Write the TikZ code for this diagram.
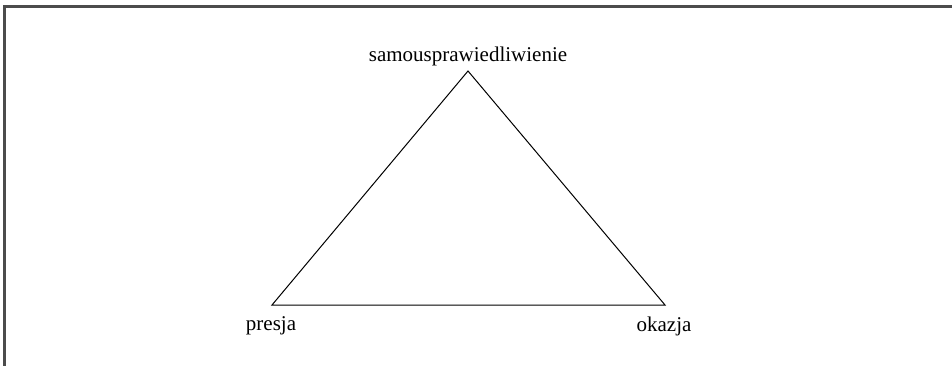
\documentclass[tikz,border=0pt]{standalone}
\usepackage{fontspec}
\setmainfont{Liberation Serif}
\usepackage{tikz}
\usetikzlibrary{positioning}

\tikzset{vertexlabel/.style={anchor=base, inner sep=0pt, font=\fontsize{21}{24}\selectfont}}

\begin{document}
\begin{tikzpicture}[x=1pt, y=-1pt]
\useasboundingbox (0,0) rectangle (952,366);

\draw [black!70, line width=2.2pt] (4.5,366) -- (4.5,6.5) -- (952,6.5);

\coordinate (apex) at (468,71);
\coordinate (pres) at (272,305);
\coordinate (okaz) at (665,305);

\draw [line width=1pt] (apex) -- (pres) -- (okaz) -- cycle;

\node [vertexlabel] (samo) at (468,62) {samousprawiedliwienie};
\node [vertexlabel] (presja) at (271,330) {presja};
\node [vertexlabel] (okazja) at (664,331) {okazja};

\end{tikzpicture}
\end{document}
